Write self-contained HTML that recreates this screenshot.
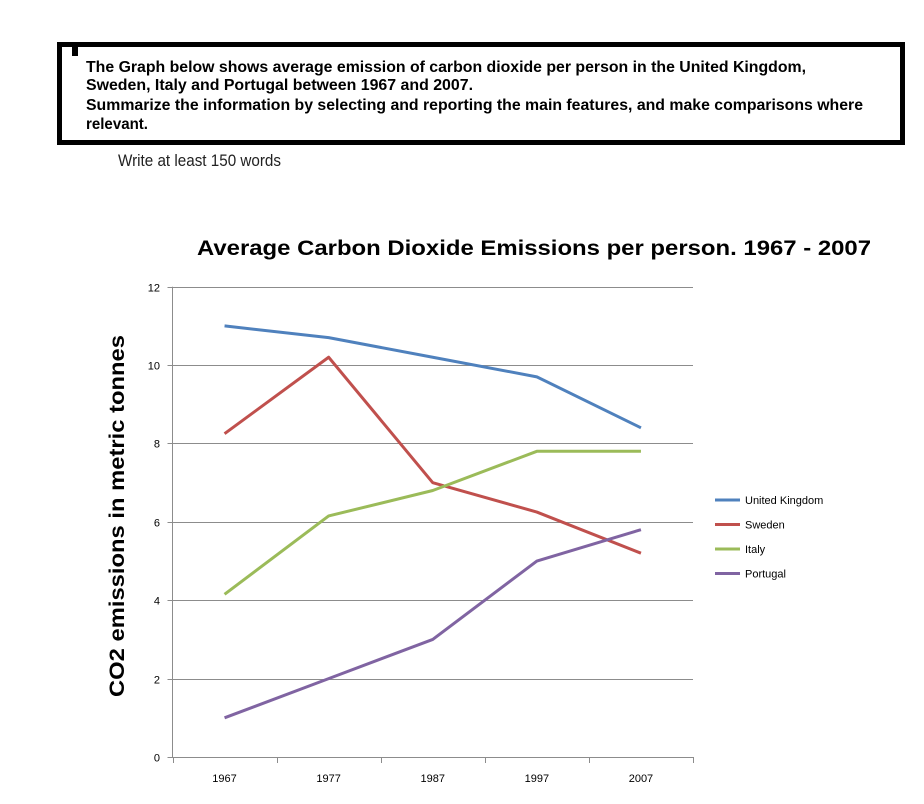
<!DOCTYPE html>
<html><head><meta charset="utf-8"><style>
html,body{margin:0;padding:0;background:#fff;}
svg{display:block;font-family:"Liberation Sans",Arial,sans-serif;}
</style></head><body>
<svg width="924" height="804" viewBox="0 0 924 804">
<rect x="0" y="0" width="924" height="804" fill="#fff"/>
<g>
<rect x="59.5" y="44.5" width="843" height="98" fill="none" stroke="#000" stroke-width="5"/>
<rect x="72" y="45" width="6" height="11" fill="#000"/>
<g font-weight="bold" font-size="15.5" fill="#000">
<text x="86" y="72" textLength="720" lengthAdjust="spacingAndGlyphs">The Graph below shows average emission of carbon dioxide per person in the United Kingdom,</text>
<text x="86" y="90" textLength="387" lengthAdjust="spacingAndGlyphs">Sweden, Italy and Portugal between 1967 and 2007.</text>
<text x="86" y="110" textLength="777" lengthAdjust="spacingAndGlyphs">Summarize the information by selecting and reporting the main features, and make comparisons where</text>
<text x="86" y="129" textLength="62" lengthAdjust="spacingAndGlyphs">relevant.</text>
</g>
</g>
<text x="118" y="166" font-size="17" fill="#222" textLength="163" lengthAdjust="spacingAndGlyphs">Write at least 150 words</text>
<text x="197" y="255" font-size="21" font-weight="bold" fill="#000" textLength="674" lengthAdjust="spacingAndGlyphs">Average Carbon Dioxide Emissions per person. 1967 - 2007</text>
<text transform="translate(124,516) rotate(-90)" text-anchor="middle" font-size="21" font-weight="bold" fill="#000" textLength="362" lengthAdjust="spacingAndGlyphs">CO2 emissions in metric tonnes</text>
<g id="grid"></g>
<g id="series"></g>
<g id="legend"></g>
</svg>
<script>
const categories = ["1967","1977","1987","1997","2007"];
const seriesNames = ["United Kingdom","Sweden","Italy","Portugal"];
const ukValues = [11, 10.7, 10.2, 9.7, 8.4];
const swedenValues = [8.25, 10.2, 7, 6.25, 5.2];
const italyValues = [4.15, 6.15, 6.8, 7.8, 7.8];
const portugalValues = [1, 2, 3, 5, 5.8];
const yTicks = [0, 2, 4, 6, 8, 10, 12];
const colors = ["#4F81BD","#C0504D","#9BBB59","#8064A2"];

const NS = "http://www.w3.org/2000/svg";
const x0 = 172.5, x1 = 693, y0 = 757, yTop = 286.7, yMax = 12;
const band = (x1 - x0) / categories.length;
function xs(i){ return x0 + band * (i + 0.5); }
function ys(v){ return y0 - (v / yMax) * (y0 - yTop); }
function mk(tag, attrs, parent){
  const e = document.createElementNS(NS, tag);
  for (const k in attrs) e.setAttribute(k, attrs[k]);
  parent.appendChild(e);
  return e;
}
const grid = document.getElementById('grid');
yTicks.forEach(t => {
  const y = Math.round(ys(t)) + 0.5;
  if (t > 0) {
    const l = mk('line', {x1: x0, x2: x1, y1: y, y2: y, stroke: '#8c8c8c', 'stroke-width': 1}, grid);
    
    
  }
  const tk = mk('line', {x1: x0 - 5, x2: x0, y1: y, y2: y, stroke: '#8c8c8c'}, grid);
  
  
  const tx = mk('text', {x: 160, y: y + 4, 'text-anchor': 'end', 'font-size': 11, fill: '#000'}, grid);
  tx.textContent = t;
  
  
});
const ya = mk('line', {x1: x0, x2: x0, y1: yTop, y2: y0, stroke: '#8c8c8c'}, grid);


const xa = mk('line', {x1: x0, x2: x1, y1: y0 + 0.5, y2: y0 + 0.5, stroke: '#8c8c8c'}, grid);


for (let i = 0; i <= categories.length; i++) {
  const x = Math.round(x0 + band * i) + 0.5;
  const t = mk('line', {x1: x, x2: x, y1: y0, y2: y0 + 6, stroke: '#8c8c8c'}, grid);
  
  
}
categories.forEach((c, i) => {
  const t = mk('text', {x: xs(i), y: 782, 'text-anchor': 'middle', 'font-size': 11, fill: '#000'}, grid);
  t.textContent = c;
  
  
});
const allSeries = [ukValues, swedenValues, italyValues, portugalValues];
const sg = document.getElementById('series');
const lg = document.getElementById('legend');
allSeries.forEach((vals, s) => {
  const pts = vals.map((v, i) => xs(i) + ',' + ys(v)).join(' ');
  const p = mk('polyline', {points: pts, fill: 'none', stroke: colors[s], 'stroke-width': 3, 'stroke-linejoin': 'round'}, sg);
  
  
  const ly = 500 + s * 24.5;
  const g = mk('g', {}, lg);
  
  
  mk('line', {x1: 715, x2: 740, y1: ly, y2: ly, stroke: colors[s], 'stroke-width': 3}, g);
  const t = mk('text', {x: 745, y: ly + 4, 'font-size': 11, fill: '#000'}, g);
  t.textContent = seriesNames[s];
});
</script>
</body></html>
